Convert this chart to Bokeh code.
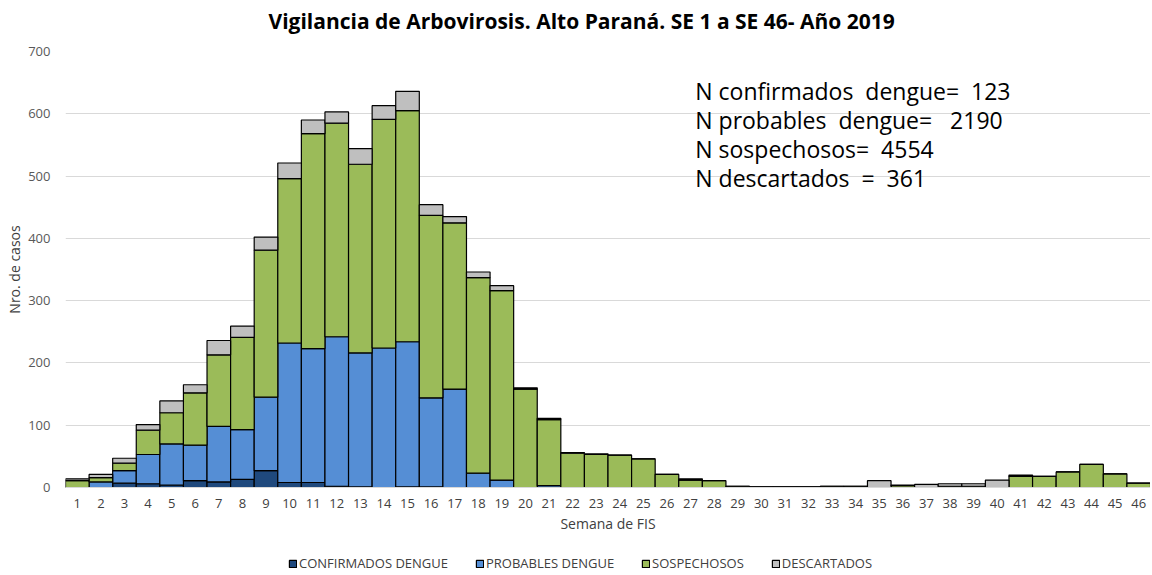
from bokeh.plotting import figure
from bokeh.models import Label, Legend, LegendItem, FactorRange, Range1d
from bokeh.layouts import column
from bokeh.embed import file_html
from bokeh.resources import INLINE

semanas = [str(i) for i in range(1, 47)]
confirmados = [0, 0, 7, 6, 4, 11, 9, 13, 27, 8, 8, 2, 1, 0, 1, 1, 0, 0, 0, 0,
               0, 0, 0, 0, 0, 0, 0, 0, 0, 0, 0, 0, 0, 0, 0, 0, 0, 0, 0, 0,
               0, 0, 0, 0, 0, 0]
probables = [0, 9, 20, 47, 66, 57, 89, 80, 118, 224, 215, 240, 215, 224, 233, 143, 158, 23, 12, 0,
             3, 0, 0, 0, 0, 0, 0, 0, 0, 0, 0, 0, 0, 0, 0, 0, 0, 0, 0, 0,
             0, 0, 0, 0, 0, 0]
sospechosos = [11, 7, 12, 39, 50, 84, 115, 148, 236, 264, 345, 343, 303, 367, 371, 293, 267, 314, 304, 158,
               106, 55, 53, 52, 46, 21, 12, 11, 2, 1, 1, 1, 2, 2, 0, 3, 0, 2, 2, 0,
               18, 18, 25, 37, 22, 7]
descartados = [3, 5, 8, 9, 19, 13, 23, 18, 21, 25, 22, 18, 25, 22, 31, 17, 10, 9, 8, 2,
               2, 1, 1, 0, 0, 0, 2, 0, 0, 0, 0, 0, 0, 0, 11, 1, 5, 4, 4, 12,
               2, 0, 0, 0, 0, 0]
series = ["conf", "prob", "sosp", "desc"]
series_labels = ["CONFIRMADOS DENGUE", "PROBABLES DENGUE", "SOSPECHOSOS", "DESCARTADOS"]
colores = ["#1F497D", "#558ED5", "#9BBB59", "#BFBFBF"]
titulo = "Vigilancia de Arbovirosis. Alto Paraná. SE 1 a SE 46- Año 2019"
NB = "\u00a0"
anotaciones = ["N confirmados " + NB + "dengue= " + NB + "123",
               "N probables " + NB + "dengue= " + NB + NB + "2190",
               "N sospechosos= " + NB + "4554",
               "N descartados " + NB + "= " + NB + "361"]

FONT = "Open Sans"
W = 1150


def strip(h, y0=0):
    f = figure(width=W, height=h, output_backend="svg", toolbar_location=None,
               x_range=Range1d(0, 1085), y_range=Range1d(y0, y0 + h),
               min_border_left=65, min_border_right=0, min_border_top=0, min_border_bottom=0)
    f.axis.visible = False
    f.grid.visible = False
    f.outline_line_color = None
    return f


# title strip
pt = strip(40)
pt.add_layout(Label(x=203, y=20, text=titulo, text_font=FONT, text_font_size="21px",
                    text_font_style="bold", text_color="#000000",
                    text_align="left", text_baseline="middle"))

# main chart
data = dict(semana=semanas, conf=confirmados, prob=probables, sosp=sospechosos, desc=descartados)

p = figure(x_range=FactorRange(*semanas, range_padding=0), y_range=(0, 700),
           width=W, height=509, output_backend="svg", toolbar_location=None,
           min_border_left=65, min_border_right=0, min_border_top=11, min_border_bottom=62)

rs = p.vbar_stack(series, x="semana", width=1.0, color=colores, line_color="#000000",
                  line_width=1.2, source=data)

p.outline_line_color = None
p.xgrid.grid_line_color = None
p.ygrid.grid_line_color = "#D9D9D9"
p.ygrid.grid_line_width = 1.2

p.yaxis.ticker = [0, 100, 200, 300, 400, 500, 600, 700]
p.yaxis.axis_line_color = None
p.yaxis.major_tick_line_color = None
p.yaxis.minor_tick_line_color = None
p.yaxis.major_label_text_font = FONT
p.yaxis.major_label_text_font_size = "13px"
p.yaxis.major_label_text_color = "#595959"
p.yaxis.major_label_standoff = 9
p.yaxis.axis_label = "Nro. de casos"
p.yaxis.axis_label_text_font = FONT
p.yaxis.axis_label_text_font_size = "14px"
p.yaxis.axis_label_text_font_style = "normal"
p.yaxis.axis_label_text_color = "#404040"
p.yaxis.axis_label_standoff = 1

p.xaxis.axis_line_color = "#D9D9D9"
p.xaxis.axis_line_width = 1.2
p.xaxis.major_tick_line_color = None
p.xaxis.minor_tick_line_color = None
p.xaxis.major_label_text_font = FONT
p.xaxis.major_label_text_font_size = "13px"
p.xaxis.major_label_text_color = "#404040"
p.xaxis.major_label_standoff = 5
p.xaxis.axis_label = "Semana de FIS"
p.xaxis.axis_label_text_font = FONT
p.xaxis.axis_label_text_font_size = "14px"
p.xaxis.axis_label_text_font_style = "normal"
p.xaxis.axis_label_text_color = "#404040"
p.xaxis.axis_label_standoff = 3

for i, t in enumerate(anotaciones):
    p.add_layout(Label(x=26.7, y=637 - i * 46.6, text=t, text_font=FONT,
                       text_font_size="23px", text_color="#000000",
                       text_align="left", text_baseline="middle"))

# legend strip (dummy renderers placed below the visible range)
pl = strip(24, y0=1000)
dummy = dict(x=[500], conf=[1], prob=[1], sosp=[1], desc=[1])
rl = pl.vbar_stack(series, x="x", width=1, color=colores, line_color="#000000",
                   line_width=1.2, source=dummy)
legend = Legend(items=[LegendItem(label=l, renderers=[r]) for l, r in zip(series_labels, rl)],
                orientation="horizontal", location=(223, 1),
                label_text_font=FONT, label_text_font_size="13px", label_text_color="#404040",
                glyph_width=9, glyph_height=9, label_standoff=2, spacing=27,
                border_line_color=None, background_fill_alpha=0, padding=2, margin=0)
pl.add_layout(legend, "center")

layout = column(pt, p, pl, spacing=0)
open("out.html", "w").write(file_html(layout, INLINE))
